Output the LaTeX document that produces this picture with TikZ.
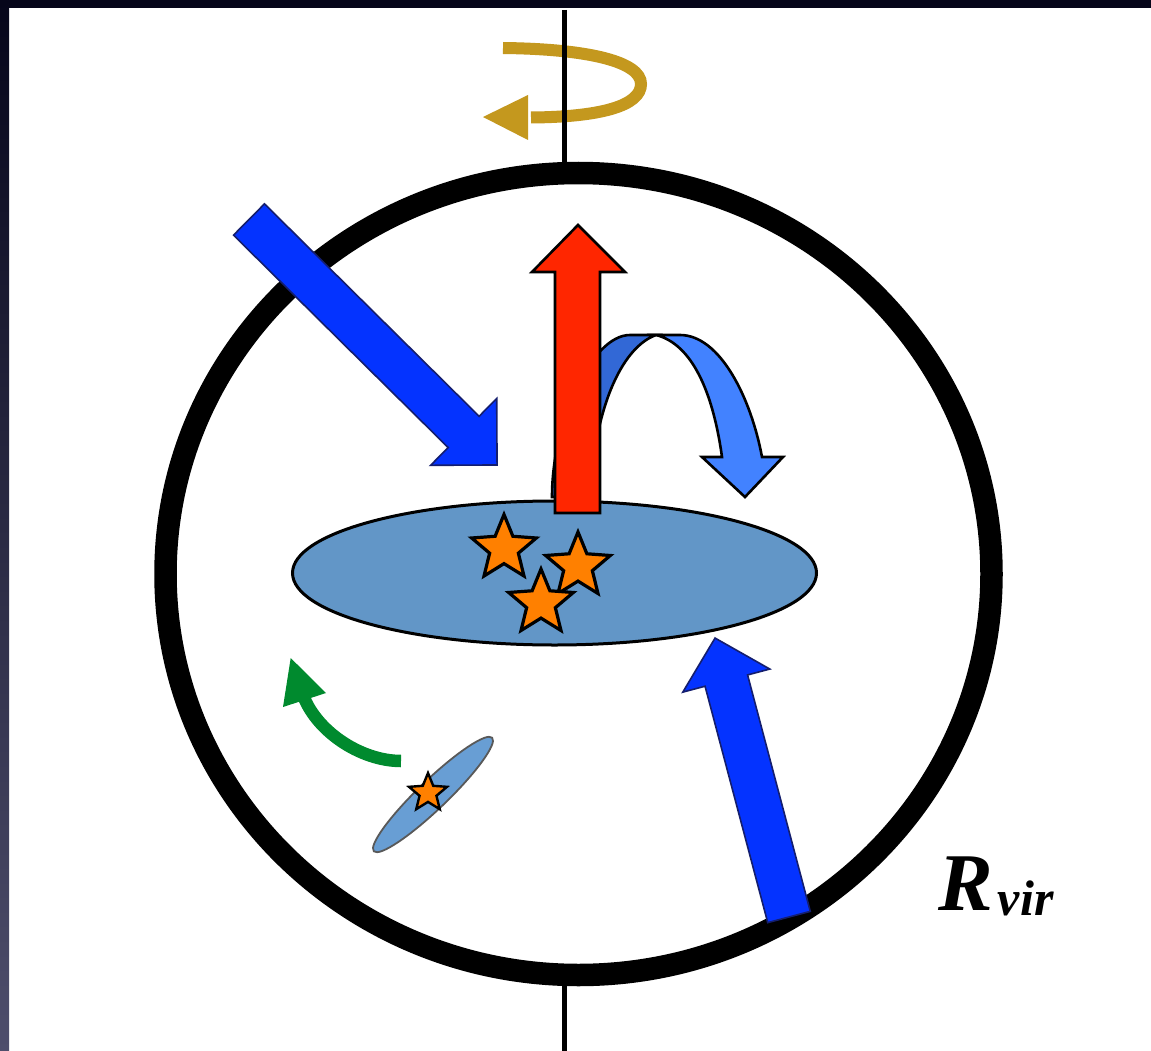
\documentclass[tikz,border=0pt]{standalone}
\usepackage{fontspec}
\setmainfont{Liberation Serif}
\usetikzlibrary{shapes.geometric}

\definecolor{frameTop}{RGB}{6,6,26}
\definecolor{frameBot}{RGB}{78,78,108}
\definecolor{inflow}{RGB}{4,51,255}
\definecolor{inflowEdge}{RGB}{20,30,110}
\definecolor{outflow}{RGB}{255,38,0}
\definecolor{fountainLight}{RGB}{66,130,255}
\definecolor{fountainDark}{RGB}{50,104,214}
\definecolor{diskBlue}{RGB}{98,150,199}
\definecolor{satBlue}{RGB}{104,158,212}
\definecolor{starOrange}{RGB}{255,128,0}
\definecolor{spinGold}{RGB}{196,152,30}
\definecolor{orbitGreen}{RGB}{0,138,46}

\tikzset{
  haloline/.style={line width=22.5pt, draw=black},
  axisline/.style={line width=5pt, draw=black},
  streamarrow/.style={fill=inflow, draw=inflowEdge, line width=1.6pt, line join=miter},
  windarrow/.style={fill=outflow, draw=black, line width=2.6pt, line join=miter},
  fountainA/.style={fill=fountainDark, draw=black, line width=2.6pt},
  fountainB/.style={fill=fountainLight, draw=black, line width=2.6pt, line join=miter},
  galdisk/.style={fill=diskBlue, draw=black, line width=3pt},
  satdisk/.style={fill=satBlue, draw=black!65, line width=1.8pt},
  starnode/.style={star, star points=5, star point ratio=2.25, fill=starOrange,
    draw=black, line width=3.2pt, inner sep=0pt, outer sep=0pt, minimum size=#1},
  spinline/.style={draw=spinGold, line width=12pt, line cap=butt},
  orbitline/.style={draw=orbitGreen, line width=12.5pt, line cap=butt},
}

% straight block arrow: style, tail centre, direction angle, length,
% shaft half width, head half width, head length
\newcommand\blockarrow[7]{%
  \draw[#1, shift={#2}, rotate=#3]
    (0,-#5) -- ({#4-#7},-#5) -- ({#4-#7},-#6) -- (#4,0)
    -- ({#4-#7},#6) -- ({#4-#7},#5) -- (0,#5) -- cycle;}

\begin{document}
\begin{tikzpicture}[x=1pt, y=-1pt]
\useasboundingbox (0,0) rectangle (1151,1051);

% page and frame
\fill[white] (0,0) rectangle (1151,1051);
\fill[frameTop] (0,0) rectangle (1151,8);
\shade[top color=frameTop, bottom color=frameBot] (0,0) rectangle (9,1051);

% rotation sense around the spin axis
\draw[spinline] (503,48) .. controls (590,49) and (641,62) .. (641,84)
  .. controls (641,106) and (600,117) .. (531,117.5);
\fill[spinGold] (483,117) -- (528,95) -- (528,140) -- cycle;

% spin axis
\coordinate (axtop) at (564.5,10);
\coordinate (axbot) at (564.5,1051);
\draw[axisline] (axtop) -- (564.5,170);
\draw[axisline] (564.5,980) -- (axbot);

% virial sphere
\draw[haloline] (578.5,574) ellipse [x radius=413, y radius=401];

% central disc
\draw[galdisk] (554.5,573) ellipse [x radius=262, y radius=72];

% galactic fountain
\draw[fountainA] (552,497) .. controls (552,420) and (592,335) .. (630,335)
  -- (656,335) .. controls (625,346) and (595,400) .. (590,497) -- cycle;
\draw[fountainB] (656,335) -- (680,335) .. controls (720,335) and (751,398) .. (762,457)
  -- (783,457) -- (745,497) -- (702,457) -- (722,457)
  .. controls (713,392) and (692,344) .. (656,335) -- cycle;

% outflow
\draw[windarrow] (555,513) -- (555,272) -- (532,272) -- (578,225) -- (625,272)
  -- (600,272) -- (600,513) -- cycle;

% stars in the disc
\node[starnode=68pt] (st1) at (504,548.5) {};
\node[starnode=68pt] (st2) at (578,566) {};
\node[starnode=68pt] (st3) at (541,603) {};

% cold accretion streams
\blockarrow{streamarrow}{(249,219.5)}{-44.7}{349}{22}{47}{47}
\blockarrow{streamarrow}{(789,917)}{104.85}{288.6}{22}{45}{44}

% satellite and its orbit
\draw[satdisk, rotate around={43.8:(433,794.5)}] (433,794.5) ellipse [x radius=82, y radius=14.5];
\node[starnode=40pt, line width=2.4pt] (st4) at (428,793) {};
\draw[orbitline] (401,761) .. controls (360,761) and (314,730) .. (302,692);
\fill[orbitGreen] (290.7,658) -- (326,693) -- (283,707) -- cycle;

% label
\node[anchor=base west, inner sep=0pt] (rvir) at (938,910)
  {\fontsize{82}{82}\selectfont\bfseries\itshape R\kern5pt\raisebox{-5pt}{\fontsize{50}{50}\selectfont vir}};
\end{tikzpicture}
\end{document}
